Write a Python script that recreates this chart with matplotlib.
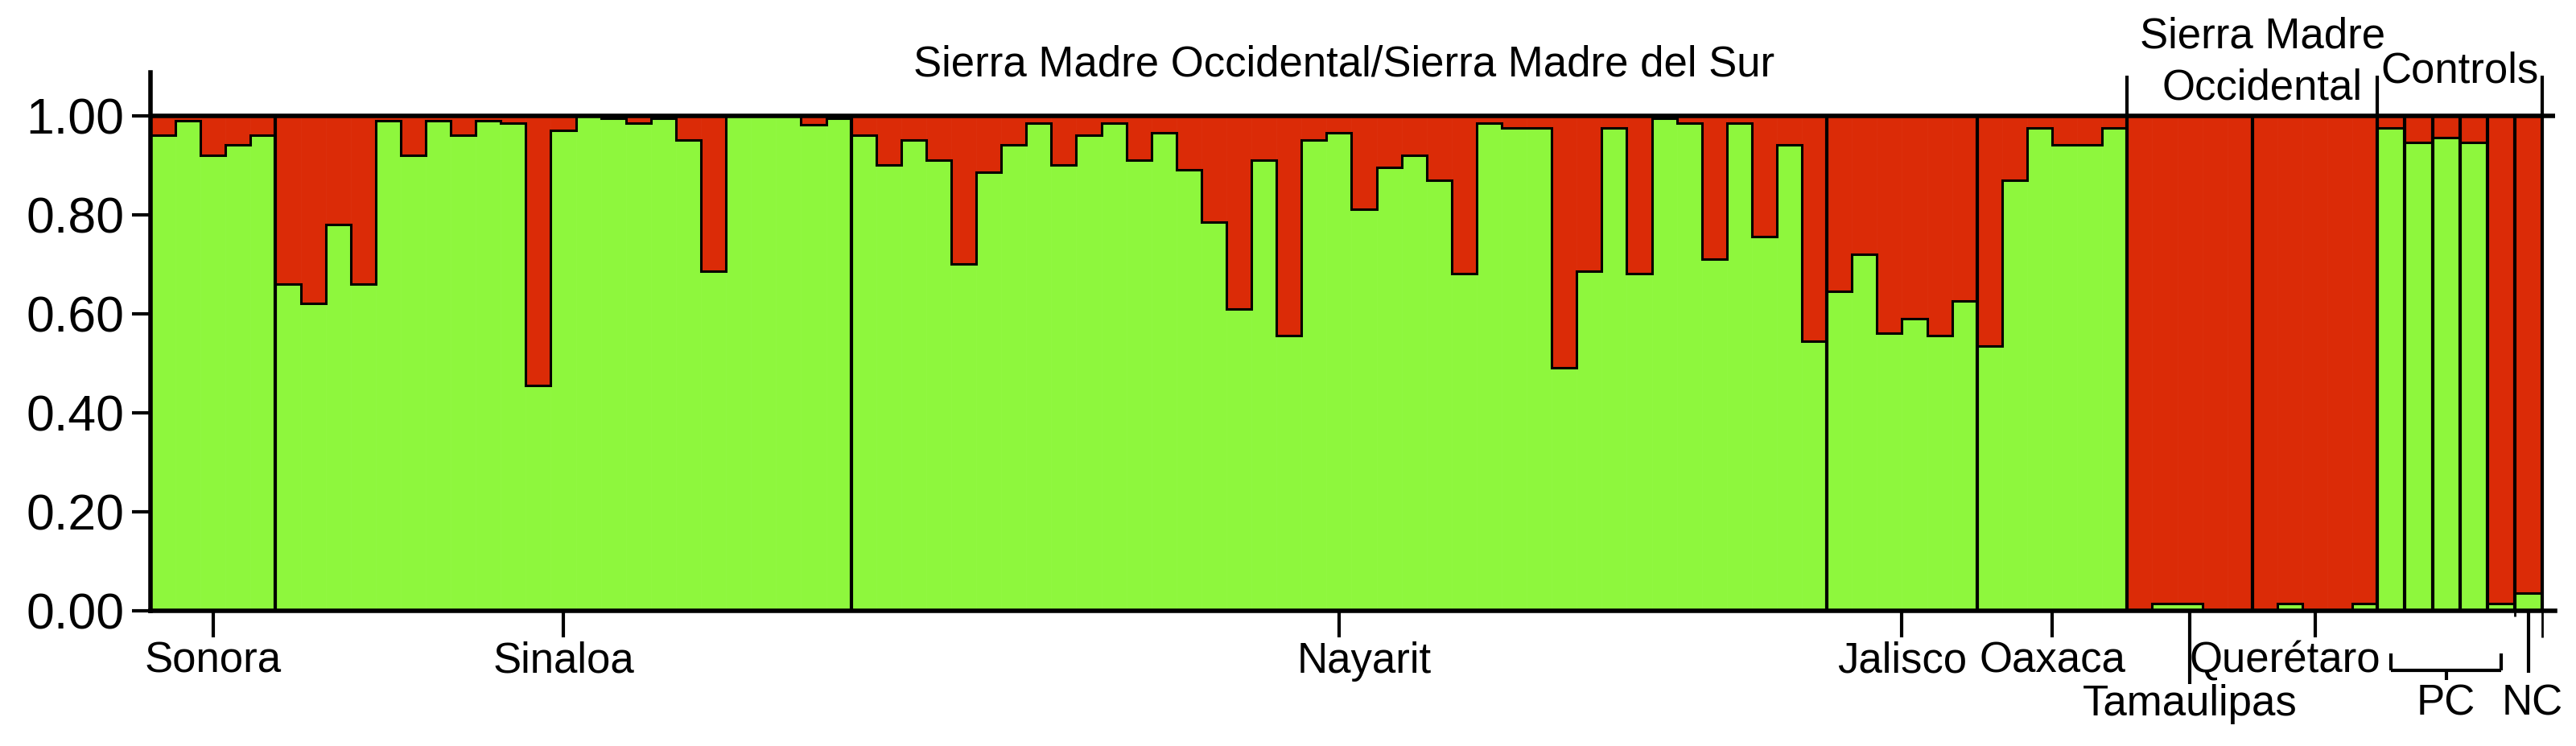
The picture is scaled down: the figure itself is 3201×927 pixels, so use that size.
import numpy as np
import matplotlib
matplotlib.use('Agg')
import matplotlib.pyplot as plt

plt.rcParams['font.family'] = ['Liberation Sans', 'DejaVu Sans']

# 每个个体属于绿色群的比例（其余为红色群）
sonora = [0.96, 0.99, 0.92, 0.94, 0.96]
sinaloa = [0.66, 0.62, 0.78, 0.66, 0.99, 0.92, 0.99, 0.96, 0.99, 0.985, 0.455, 0.97,
           1.0, 0.995, 0.985, 0.995, 0.95, 0.685, 1.0, 1.0, 1.0, 0.982, 0.995]
nayarit = [0.96, 0.90, 0.95, 0.91, 0.70, 0.885, 0.94, 0.985, 0.90, 0.96, 0.985, 0.91,
           0.965, 0.89, 0.785, 0.61, 0.91, 0.555, 0.95, 0.965, 0.81, 0.895, 0.92, 0.87,
           0.68, 0.985, 0.975, 0.975, 0.49, 0.685, 0.975, 0.68, 0.995, 0.985, 0.71,
           0.985, 0.755, 0.94, 0.545]
jalisco = [0.645, 0.72, 0.56, 0.59, 0.555, 0.625]
oaxaca = [0.535, 0.87, 0.975, 0.94, 0.94, 0.975]
tamaulipas = [0.0, 0.015, 0.015, 0.0, 0.0]
queretaro = [0.0, 0.015, 0.0, 0.0, 0.015]
controls = [0.975, 0.945, 0.955, 0.945, 0.015, 0.035]

group_names = ['Sonora', 'Sinaloa', 'Nayarit', 'Jalisco', 'Oaxaca', 'Tamaulipas', 'Querétaro']
group_values = [sonora, sinaloa, nayarit, jalisco, oaxaca, tamaulipas, queretaro]
yticks = [0.0, 0.2, 0.4, 0.6, 0.8, 1.0]

GREEN = '#8EF73D'
RED = '#DB2B07'
LABEL_FS = 38

W, H = 3201, 927
fig = plt.figure(figsize=(W / 100, H / 100), dpi=100)
ax = fig.add_axes([187 / W, 168 / H, 2988 / W, 669 / H])

# 每组一段：样本组宽度1，对照组每个样本单独成段，宽度1.1
segments = [(v, 1.0) for v in group_values] + [([c], 1.1) for c in controls]

pos = 0.0
edges_all = []
for vals, w in segments:
    vals = np.array(vals)
    edges = pos + w * np.arange(len(vals) + 1)
    ax.bar(edges[:-1], vals, width=w, align='edge', color=GREEN,
           edgecolor=GREEN, linewidth=0.5, zorder=1)
    ax.bar(edges[:-1], 1 - vals, bottom=vals, width=w, align='edge', color=RED,
           edgecolor=RED, linewidth=0.5, zorder=1)
    ax.stairs(vals, edges, baseline=None, color='black', linewidth=2.2, zorder=2)
    edges_all.append(edges)
    pos = edges[-1]

right_end = pos
bounds = [e[-1] for e in edges_all]
ax.vlines(bounds, 0, 1, color='black', linewidth=3, zorder=3)
ax.axhline(1.0, color='black', linewidth=4, zorder=4)

ax.set_xlim(0, right_end + 0.5)
ax.set_ylim(0, 1.087)
ax.spines['top'].set_visible(False)
ax.spines['right'].set_visible(False)
ax.spines['left'].set_linewidth(4)
ax.spines['bottom'].set_linewidth(4)
ax.spines['left'].set_zorder(5)
ax.spines['bottom'].set_zorder(5)
ax.set_xticks([])
ax.set_yticks(yticks)
ax.set_yticklabels([f'{v:.2f}' for v in yticks])
ax.tick_params(axis='y', direction='out', length=16.5, width=3, labelsize=45, pad=7)


def line(xs, ys, lw=3):
    ax.plot(xs, ys, color='black', linewidth=lw, clip_on=False,
            solid_capstyle='butt', zorder=6)


# 下方群体标签
shift = {'Nayarit': 1.0, 'Querétaro': -1.2}
for name, edges in zip(group_names, edges_all[:7]):
    c = (edges[0] + edges[-1]) / 2
    if name == 'Tamaulipas':
        line([c, c], [0, -0.148])
        ax.text(c, -0.211, name, ha='center', va='baseline', fontsize=LABEL_FS)
    else:
        line([c, c], [0, -0.054])
        ax.text(c + shift.get(name, 0), -0.125, name, ha='center', va='baseline',
                fontsize=LABEL_FS)

# 对照组：PC 括号与 NC
ctrl_centers = [(e[0] + e[-1]) / 2 for e in edges_all[7:]]
pc_l, pc_r = ctrl_centers[0], ctrl_centers[4]
pc_c = (pc_l + pc_r) / 2
line([pc_l, pc_r], [-0.120, -0.120])
line([pc_l, pc_l], [-0.086, -0.120])
line([pc_r, pc_r], [-0.086, -0.120])
line([pc_c, pc_c], [-0.120, -0.14])
ax.text(pc_c, -0.211, 'PC', ha='center', va='baseline', fontsize=LABEL_FS)
nc = ctrl_centers[5]
line([nc, nc], [0, -0.125])
ax.text(nc + 0.15, -0.211, 'NC', ha='center', va='baseline', fontsize=LABEL_FS)
line([edges_all[11][-1]] * 2, [0, -0.012], lw=2)
line([right_end, right_end], [0, -0.054], lw=2)

# 上方区域标签
smo_l = edges_all[5][0]
ctrl_l = edges_all[7][0]
for x in [smo_l, ctrl_l, right_end]:
    line([x, x], [1.0, 1.08])
ax.text(47.7, 1.079, 'Sierra Madre Occidental/Sierra Madre del Sur', ha='center',
        va='baseline', fontsize=LABEL_FS)
smo_c = (smo_l + ctrl_l) / 2 + 0.4
ax.text(smo_c, 1.137, 'Sierra Madre', ha='center', va='baseline', fontsize=LABEL_FS)
ax.text(smo_c, 1.032, 'Occidental', ha='center', va='baseline', fontsize=LABEL_FS)
ax.text((ctrl_l + right_end) / 2, 1.066, 'Controls', ha='center', va='baseline',
        fontsize=LABEL_FS)

fig.savefig('out.png', dpi=100, facecolor='white')
